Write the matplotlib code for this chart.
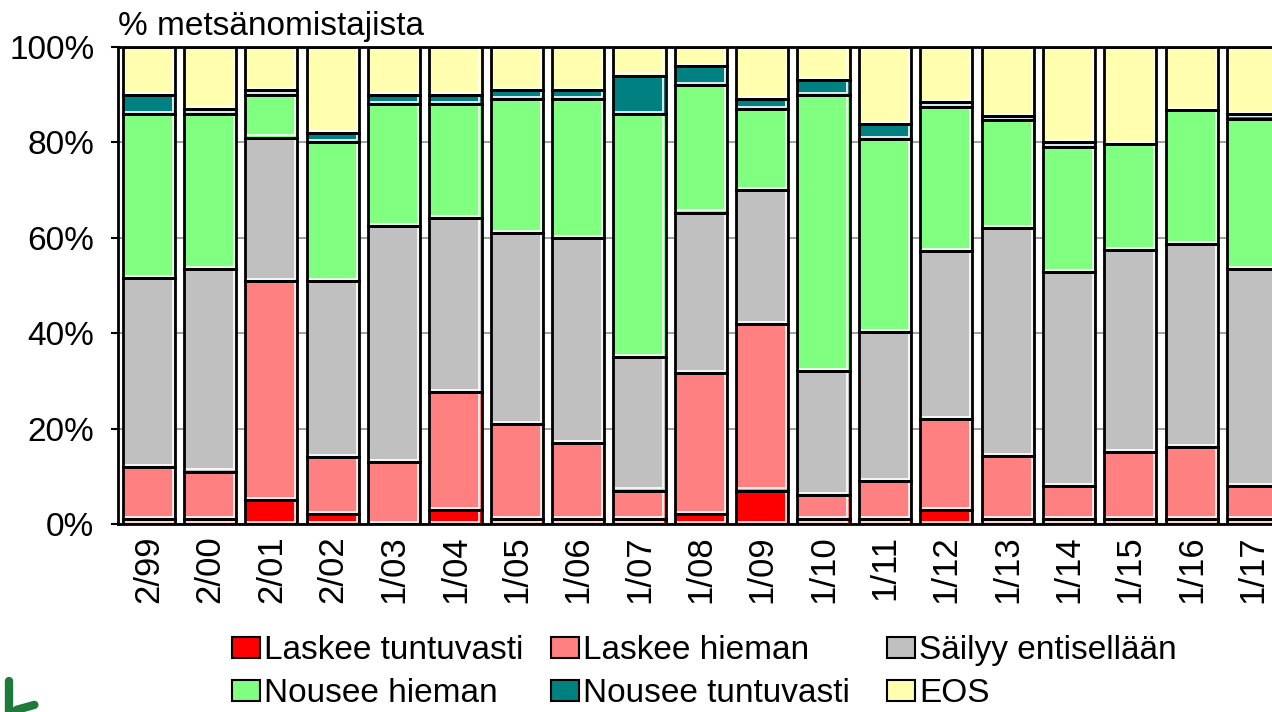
import numpy as np
import matplotlib.pyplot as plt
from matplotlib.patches import Patch, Rectangle

plt.rcParams['font.family'] = ['Liberation Sans', 'DejaVu Sans']

periods = ['2/99', '2/00', '2/01', '2/02', '1/03', '1/04', '1/05', '1/06', '1/07', '1/08',
           '1/09', '1/10', '1/11', '1/12', '1/13', '1/14', '1/15', '1/16', '1/17']

laskee_tuntuvasti = [1, 1, 5, 2, 0, 3, 1, 1, 1, 2, 7, 1, 1, 3, 1, 1, 1, 1, 1]
laskee_hieman = [11, 10, 46, 12, 13, 24.6, 20, 16, 6, 29.6, 35, 5, 8, 19, 13.3, 7, 14.1, 15.2, 7]
sailyy = [39.5, 42.5, 30, 37, 49.5, 36.6, 40, 43, 28, 33.7, 28, 26, 31.3, 35.2, 47.8, 44.8, 42.4, 42.4, 45.5]
nousee_hieman = [34.5, 32.5, 9, 29, 25.5, 23.8, 28, 29, 51, 26.7, 17, 58, 40.4, 30.2, 22.5, 26.2, 22.2, 28.2, 31.5]
nousee_tuntuvasti = [4, 1, 1, 2, 2, 2, 2, 2, 8, 4, 2, 3, 3.1, 1, 1, 1, 0, 0, 1]
eos = [10, 13, 9, 18, 10, 10, 9, 9, 6, 4, 11, 7, 16.2, 11.6, 14.4, 20, 20.3, 13.2, 14]

series = [laskee_tuntuvasti, laskee_hieman, sailyy, nousee_hieman, nousee_tuntuvasti, eos]
names = ['Laskee tuntuvasti', 'Laskee hieman', 'Säilyy entisellään',
         'Nousee hieman', 'Nousee tuntuvasti', 'EOS']
colors = ['#FF0000', '#FF8080', '#C0C0C0', '#80FF80', '#008080', '#FFFFAF']

fig = plt.figure(figsize=(12.72, 7.12), dpi=100)
ax = fig.add_axes([0.0928, 0.264, 0.9072, 0.670])

x = np.arange(len(periods))
width = 0.85
inset_x = 0.035
inset_y = 0.45

bottom = np.zeros(len(periods))
for vals, col in zip(series, colors):
    vals = np.array(vals, dtype=float)
    ax.bar(x, vals, width, bottom=bottom, color=col, edgecolor='none', zorder=2)
    # white inner highlight on right and bottom, like the old Excel style
    for xi, b, v in zip(x, bottom, vals):
        if v <= 0:
            continue
        ax.add_patch(Rectangle((xi - width / 2, b + inset_y), width - inset_x, v - inset_y,
                               fill=False, edgecolor='white', lw=1.2, zorder=3))
    ax.bar(x, vals, width, bottom=bottom, fill=False, edgecolor='black', lw=2, zorder=4)
    bottom += vals

ax.set_xlim(-0.5, 18.31)
ax.set_ylim(0, 100)
ax.set_yticks([0, 20, 40, 60, 80, 100])
ax.set_yticklabels(['0%', '20%', '40%', '60%', '80%', '100%'], fontsize=24)
ax.set_xticks(x)
ax.set_xticklabels(periods, rotation=90, fontsize=25)
ax.tick_params(axis='x', length=0, pad=8)
ax.tick_params(axis='y', length=5, width=1.5, pad=12)
ax.yaxis.grid(True, color='#909090', lw=1.2, zorder=0)
ax.set_axisbelow(True)
for s in ['left', 'top', 'bottom']:
    ax.spines[s].set_linewidth(2)
ax.spines['right'].set_visible(False)

fig.text(0.0928, 0.951, '% metsänomistajista', fontsize=24, ha='left', va='baseline')

# legend: three columns placed like the original, filled row by row
col_x = [232, 551, 887]
for k in range(3):
    idx = [k, k + 3]
    handles = [Patch(facecolor=colors[i], edgecolor='black', lw=1.5) for i in idx]
    fig.legend(handles, [names[i] for i in idx], loc='lower left',
               bbox_to_anchor=(col_x[k] / 1272, 0.004), frameon=False, fontsize=24,
               handlelength=0.85, handleheight=0.6, handletextpad=0.12,
               labelspacing=0.35, borderpad=0.0, borderaxespad=0.0)

# fragments of the logos at the bottom corners
fig.add_artist(plt.Line2D([0.007, 0.007], [0.0, 0.044], color='#1E7A3A', lw=6, solid_capstyle='round'))
fig.add_artist(plt.Line2D([0.013, 0.027], [0.003, 0.010], color='#1E7A3A', lw=6, solid_capstyle='round'))

fig.savefig('out.png', dpi=100)
